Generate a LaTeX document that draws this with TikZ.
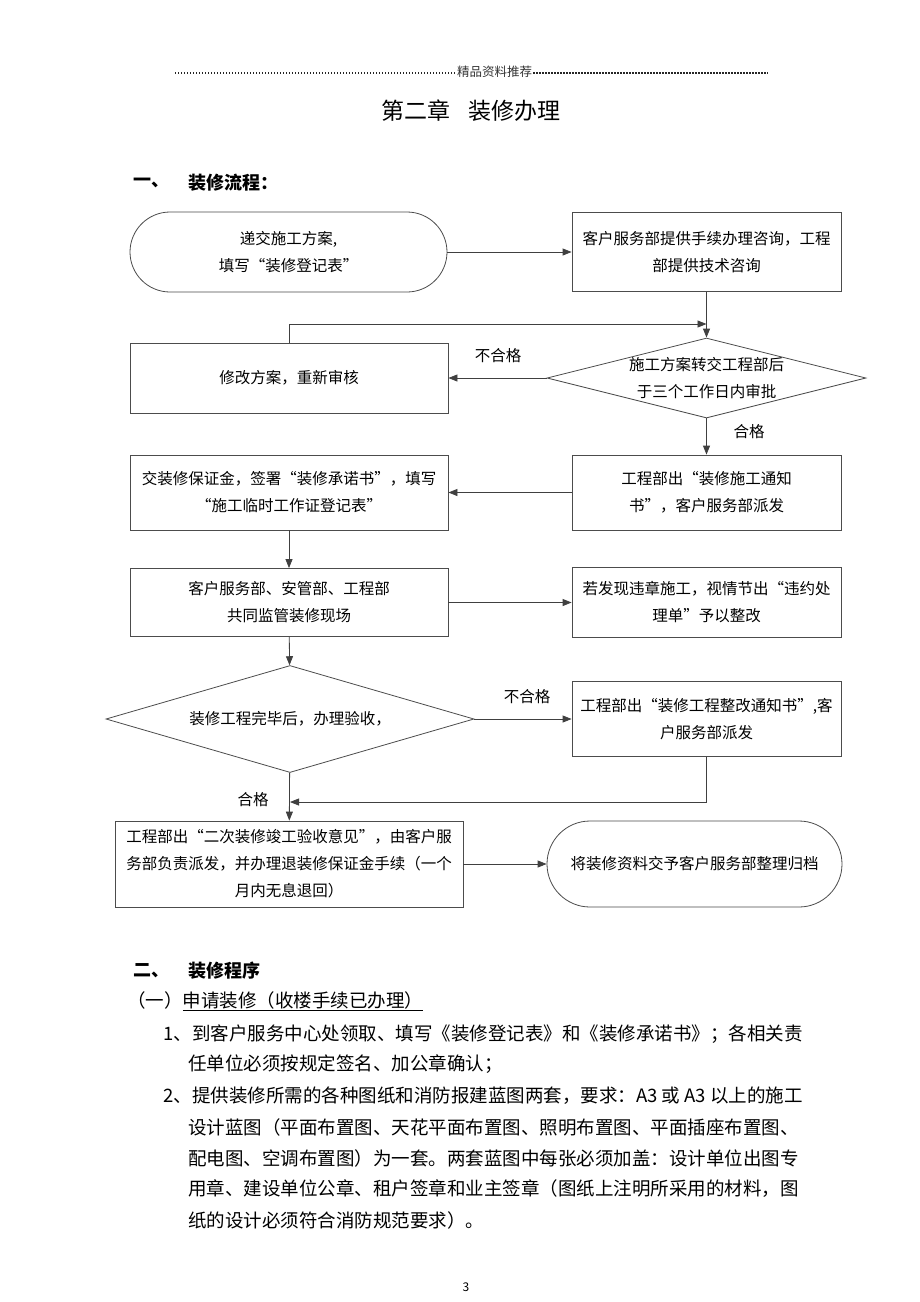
\documentclass[tikz,border=0pt]{standalone}
\usepackage{fontspec}
\setmainfont{Noto Sans CJK SC}
\usetikzlibrary{arrows.meta,shapes.geometric}

\begin{document}
\begin{tikzpicture}[
    x=1pt, y=-1pt,
    >={Triangle[length=9pt,width=7pt]},
    line width=0.8pt,
    draw=black!75,
    inner sep=0pt,
    flow/.style={font=\fontsize{15.5pt}{27pt}\selectfont, align=center},
    box/.style={flow, draw=black!70, rectangle},
    term/.style={flow, draw=black!70, rectangle},
    decide/.style={draw=black!70, diamond},
    body/.style={font=\fontsize{18.5pt}{18.5pt}\selectfont, anchor=west},
    head/.style={font=\fontsize{18pt}{18pt}\selectfont\bfseries, anchor=west},
    leader/.style={draw=black!85, line width=1.2pt, dash pattern=on 1.1pt off 1.9pt}]
    \useasboundingbox (0,0) rectangle (920,1302);
    \fill[white] (0,0) rectangle (920,1302);

    % HEADER
    \node[font=\fontsize{12.5pt}{12.5pt}\selectfont, text=black!80] (hdr) at (494.5,72) {精品资料推荐};
    \coordinate (hleft) at (175,73);
    \coordinate (hright) at (768,73);
    \draw[leader] (hleft) -- ([xshift=-1pt]hdr.west |- hleft);
    \draw[leader] ([xshift=1pt]hdr.east |- hright) -- (hright);
    % title
    \node[font=\fontsize{23pt}{23pt}\selectfont] (title) at (471,111) {第二章\hspace{18pt}装修办理};
    % section one
    \node[head] (s1num) at (133,183) {一、};
    \node[head] (s1) at (188,183) {装修流程：};

    % NODES
    % start
    \node[term, rounded corners=40pt, minimum width=317pt, minimum height=80pt] (submit) at (288.5,252)
        {递交施工方案,\\填写“装修登记表”};
    % consultation
    \node[box, minimum width=269pt, minimum height=79pt] (consult) at (706.5,252)
        {客户服务部提供手续办理咨询，工程\\部提供技术咨询};
    % review decision
    \node[decide, minimum width=319pt, minimum height=80pt,
        label={[flow]center:{施工方案转交工程部后\\于三个工作日内审批}}] (review) at (706.5,378) {};
    % revise
    \node[box, minimum width=318pt, minimum height=70pt] (revise) at (289,378) {修改方案，重新审核};
    % notice
    \node[box, minimum width=269pt, minimum height=75pt] (notice) at (706.5,492.5)
        {工程部出“装修施工通知\\书”，客户服务部派发};
    % deposit
    \node[box, minimum width=318pt, minimum height=75pt] (deposit) at (289,492.5)
        {交装修保证金，签署“装修承诺书”，填写\\“施工临时工作证登记表”};
    % supervision
    \node[box, minimum width=318pt, minimum height=68pt] (supervise) at (289,602.5)
        {客户服务部、安管部、工程部\\共同监管装修现场};
    % violation
    \node[box, minimum width=269pt, minimum height=70pt] (violation) at (706.5,602.5)
        {若发现违章施工，视情节出“违约处\\理单”予以整改};
    % acceptance decision
    \node[decide, minimum width=368pt, minimum height=107pt,
        label={[flow]center:{装修工程完毕后，办理验收，}}] (accept) at (290,719) {};
    % rectification
    \node[box, minimum width=269pt, minimum height=75pt] (rectify) at (706.5,719)
        {工程部出“装修工程整改通知书”,客\\户服务部派发};
    % final opinion
    \node[box, minimum width=348pt, minimum height=86pt] (final) at (289,864)
        {工程部出“二次装修竣工验收意见”，由客户服\\务部负责派发，并办理退装修保证金手续（一个\\月内无息退回）};
    % archive
    \node[term, rounded corners=43pt, minimum width=295pt, minimum height=86pt] (archive) at (694.5,864)
        {将装修资料交予客户服务部整理归档};
    % labels
    \node[flow] (fail1) at (498,356) {不合格};
    \node[flow] (pass1) at (749,432) {合格};
    \node[flow] (fail2) at (527,697) {不合格};
    \node[flow] (pass2) at (253,800) {合格};
    % joints
    \coordinate (j1) at (706.5,324);
    \coordinate (j2) at (290,802);

    % ARROWS
    \draw[->] (submit) -- (consult);
    \draw[->] (consult) -- (review);
    \draw[->] (revise.north) |- (j1);
    \draw[->] (review) -- (revise);
    \draw[->] (review) -- (notice);
    \draw[->] (notice) -- (deposit);
    \draw[->] (deposit) -- (supervise);
    \draw[->] (supervise) -- (violation);
    \draw[->] (supervise) -- (accept);
    \draw[->] (accept) -- (rectify);
    \draw[->] (rectify.south) |- (j2);
    \draw[->] (accept) -- (final);
    \draw[->] (final) -- (archive);

    % SECTION TWO
    \node[head] (s2num) at (133,971) {二、};
    \node[head] (s2) at (188,971) {装修程序};
    \node[body] (sub1) at (127,1001) {（一）\underline{申请装修（收楼手续已办理）}};
    \node[body] (p1a) at (163,1034) {1、到客户服务中心处领取、填写《装修登记表》和《装修承诺书》；各相关责};
    \node[body] (p1b) at (188,1064) {任单位必须按规定签名、加公章确认；};
    \node[body] (p2a) at (163,1096) {2、提供装修所需的各种图纸和消防报建蓝图两套，要求：A3 或 A3 以上的施工};
    \node[body] (p2b) at (188,1127) {设计蓝图（平面布置图、天花平面布置图、照明布置图、平面插座布置图、};
    \node[body] (p2c) at (188,1158) {配电图、空调布置图）为一套。两套蓝图中每张必须加盖：设计单位出图专};
    \node[body] (p2d) at (188,1189) {用章、建设单位公章、租户签章和业主签章（图纸上注明所采用的材料，图};
    \node[body] (p2e) at (188,1220) {纸的设计必须符合消防规范要求）。};
    % page number
    \node[font=\fontsize{12pt}{12pt}\selectfont] (pg) at (466,1287) {3};
\end{tikzpicture}
\end{document}
